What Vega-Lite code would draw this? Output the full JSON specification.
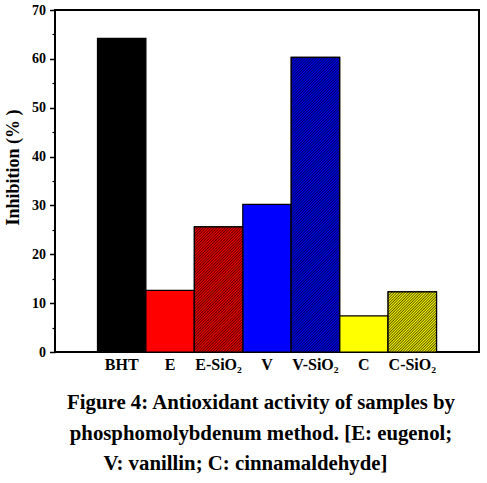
{
  "$schema": "https://vega.github.io/schema/vega-lite/v6.json",
  "width": 424,
  "height": 342,
  "autosize": {"type": "none"},
  "padding": {"left": 55, "top": 10, "right": 8, "bottom": 131},
  "background": "white",
  "title": {
    "text": [
      "Figure 4: Antioxidant activity of samples by",
      "phosphomolybdenum method. [E: eugenol;",
      "V: vanillin; C: cinnamaldehyde]\u00a0\u00a0\u00a0\u00a0\u00a0\u00a0\u200b"
    ],
    "orient": "bottom",
    "anchor": "middle",
    "baseline": "top",
    "font": "Liberation Serif",
    "fontSize": 20.8,
    "fontWeight": "bold",
    "color": "#000",
    "lineHeight": 30.5,
    "offset": 21,
    "dx": -6
  },
  "data": {
    "values": [
      {"sample": "BHT", "value": 64.2},
      {"sample": "E", "value": 12.6},
      {"sample": "E-SiO₂", "value": 25.6},
      {"sample": "V", "value": 30.2},
      {"sample": "V-SiO₂", "value": 60.3},
      {"sample": "C", "value": 7.4},
      {"sample": "C-SiO₂", "value": 12.3}
    ]
  },
  "encoding": {
    "x": {
      "field": "sample",
      "type": "nominal",
      "scale": {
        "domain": ["BHT", "E", "E-SiO₂", "V", "V-SiO₂", "C", "C-SiO₂"],
        "paddingInner": 0,
        "paddingOuter": 0.877
      },
      "axis": {"title": null, "labelAngle": 0, "ticks": false, "labelPadding": 4, "labelFontSize": 16}
    }
  },
  "layer": [
    {
      "mark": {"type": "bar", "stroke": "#000", "strokeWidth": 1.2},
      "encoding": {
        "y": {
          "field": "value",
          "type": "quantitative",
          "scale": {"domain": [0, 70], "nice": false},
          "axis": {
            "values": [0, 10, 20, 30, 40, 50, 60, 70],
            "title": "Inhibition (% )",
            "titleFontSize": 18,
            "titlePadding": 9,
            "titleY": 157,
            "labelFontSize": 14,
            "labelPadding": 4,
            "tickSize": 5.5,
            "tickWidth": 1.5
          }
        },
        "color": {
          "field": "sample",
          "type": "nominal",
          "scale": {
            "domain": ["BHT", "E", "E-SiO₂", "V", "V-SiO₂", "C", "C-SiO₂"],
            "range": ["#000000", "#ff0000", "#ff0000", "#0000ff", "#0000ff", "#ffff00", "#ffff00"]
          },
          "legend": null
        }
      }
    },
    {
      "transform": [{"filter": "datum.sample == 'E-SiO₂'"}],
      "mark": {
        "type": "bar",
        "stroke": "#000",
        "strokeWidth": 1.2,
        "fill": {
          "gradient": "linear", "x1": 0, "y1": 0, "x2": 0.4671, "y2": 1.2063,
          "stops": [
            {"offset": 0, "color": "#f00"}, {"offset": 0.008, "color": "#500"}, {"offset": 0.016, "color": "#f00"}, {"offset": 0.024, "color": "#500"}, {"offset": 0.032, "color": "#f00"},
            {"offset": 0.04, "color": "#500"}, {"offset": 0.048, "color": "#f00"}, {"offset": 0.056, "color": "#500"}, {"offset": 0.064, "color": "#f00"}, {"offset": 0.072, "color": "#500"},
            {"offset": 0.08, "color": "#f00"}, {"offset": 0.088, "color": "#500"}, {"offset": 0.096, "color": "#f00"}, {"offset": 0.104, "color": "#500"}, {"offset": 0.112, "color": "#f00"},
            {"offset": 0.12, "color": "#500"}, {"offset": 0.128, "color": "#f00"}, {"offset": 0.136, "color": "#500"}, {"offset": 0.144, "color": "#f00"}, {"offset": 0.152, "color": "#500"},
            {"offset": 0.16, "color": "#f00"}, {"offset": 0.168, "color": "#500"}, {"offset": 0.176, "color": "#f00"}, {"offset": 0.184, "color": "#500"}, {"offset": 0.192, "color": "#f00"},
            {"offset": 0.2, "color": "#500"}, {"offset": 0.208, "color": "#f00"}, {"offset": 0.216, "color": "#500"}, {"offset": 0.224, "color": "#f00"}, {"offset": 0.232, "color": "#500"},
            {"offset": 0.24, "color": "#f00"}, {"offset": 0.248, "color": "#500"}, {"offset": 0.256, "color": "#f00"}, {"offset": 0.264, "color": "#500"}, {"offset": 0.272, "color": "#f00"},
            {"offset": 0.28, "color": "#500"}, {"offset": 0.288, "color": "#f00"}, {"offset": 0.296, "color": "#500"}, {"offset": 0.304, "color": "#f00"}, {"offset": 0.312, "color": "#500"},
            {"offset": 0.32, "color": "#f00"}, {"offset": 0.328, "color": "#500"}, {"offset": 0.336, "color": "#f00"}, {"offset": 0.344, "color": "#500"}, {"offset": 0.352, "color": "#f00"},
            {"offset": 0.36, "color": "#500"}, {"offset": 0.368, "color": "#f00"}, {"offset": 0.376, "color": "#500"}, {"offset": 0.384, "color": "#f00"}, {"offset": 0.392, "color": "#500"},
            {"offset": 0.4, "color": "#f00"}, {"offset": 0.408, "color": "#500"}, {"offset": 0.416, "color": "#f00"}, {"offset": 0.424, "color": "#500"}, {"offset": 0.432, "color": "#f00"},
            {"offset": 0.44, "color": "#500"}, {"offset": 0.448, "color": "#f00"}, {"offset": 0.456, "color": "#500"}, {"offset": 0.464, "color": "#f00"}, {"offset": 0.472, "color": "#500"},
            {"offset": 0.48, "color": "#f00"}, {"offset": 0.488, "color": "#500"}, {"offset": 0.496, "color": "#f00"}, {"offset": 0.504, "color": "#500"}, {"offset": 0.512, "color": "#f00"},
            {"offset": 0.52, "color": "#500"}, {"offset": 0.528, "color": "#f00"}, {"offset": 0.536, "color": "#500"}, {"offset": 0.544, "color": "#f00"}, {"offset": 0.552, "color": "#500"},
            {"offset": 0.56, "color": "#f00"}, {"offset": 0.568, "color": "#500"}, {"offset": 0.576, "color": "#f00"}, {"offset": 0.584, "color": "#500"}, {"offset": 0.592, "color": "#f00"},
            {"offset": 0.6, "color": "#500"}, {"offset": 0.608, "color": "#f00"}, {"offset": 0.616, "color": "#500"}, {"offset": 0.624, "color": "#f00"}, {"offset": 0.632, "color": "#500"},
            {"offset": 0.64, "color": "#f00"}, {"offset": 0.648, "color": "#500"}, {"offset": 0.656, "color": "#f00"}, {"offset": 0.664, "color": "#500"}, {"offset": 0.672, "color": "#f00"},
            {"offset": 0.68, "color": "#500"}, {"offset": 0.688, "color": "#f00"}, {"offset": 0.696, "color": "#500"}, {"offset": 0.704, "color": "#f00"}, {"offset": 0.712, "color": "#500"},
            {"offset": 0.72, "color": "#f00"}, {"offset": 0.728, "color": "#500"}, {"offset": 0.736, "color": "#f00"}, {"offset": 0.744, "color": "#500"}, {"offset": 0.752, "color": "#f00"},
            {"offset": 0.76, "color": "#500"}, {"offset": 0.768, "color": "#f00"}, {"offset": 0.776, "color": "#500"}, {"offset": 0.784, "color": "#f00"}, {"offset": 0.792, "color": "#500"},
            {"offset": 0.8, "color": "#f00"}, {"offset": 0.808, "color": "#500"}, {"offset": 0.816, "color": "#f00"}, {"offset": 0.824, "color": "#500"}, {"offset": 0.832, "color": "#f00"},
            {"offset": 0.84, "color": "#500"}, {"offset": 0.848, "color": "#f00"}, {"offset": 0.856, "color": "#500"}, {"offset": 0.864, "color": "#f00"}, {"offset": 0.872, "color": "#500"},
            {"offset": 0.88, "color": "#f00"}, {"offset": 0.888, "color": "#500"}, {"offset": 0.896, "color": "#f00"}, {"offset": 0.904, "color": "#500"}, {"offset": 0.912, "color": "#f00"},
            {"offset": 0.92, "color": "#500"}, {"offset": 0.928, "color": "#f00"}, {"offset": 0.936, "color": "#500"}, {"offset": 0.944, "color": "#f00"}, {"offset": 0.952, "color": "#500"},
            {"offset": 0.96, "color": "#f00"}, {"offset": 0.968, "color": "#500"}, {"offset": 0.976, "color": "#f00"}, {"offset": 0.984, "color": "#500"}, {"offset": 0.992, "color": "#f00"},
            {"offset": 1, "color": "#500"}
          ]
        }
      },
      "encoding": {
        "y": {
          "field": "value",
          "type": "quantitative",
          "axis": {
            "orient": "left",
            "values": [5, 15, 25, 35, 45, 55, 65],
            "labels": false,
            "domain": false,
            "grid": false,
            "tickSize": 3,
            "tickWidth": 1.2,
            "title": null
          }
        }
      }
    },
    {
      "transform": [{"filter": "datum.sample == 'V-SiO₂'"}],
      "mark": {
        "type": "bar",
        "stroke": "#000",
        "strokeWidth": 1.2,
        "fill": {
          "gradient": "linear", "x1": 0, "y1": 0, "x2": 0.1864, "y2": 1.1338,
          "stops": [
            {"offset": 0, "color": "#00f"}, {"offset": 0.004, "color": "#005"}, {"offset": 0.008, "color": "#00f"}, {"offset": 0.012, "color": "#005"}, {"offset": 0.016, "color": "#00f"},
            {"offset": 0.02, "color": "#005"}, {"offset": 0.024, "color": "#00f"}, {"offset": 0.028, "color": "#005"}, {"offset": 0.032, "color": "#00f"}, {"offset": 0.036, "color": "#005"},
            {"offset": 0.04, "color": "#00f"}, {"offset": 0.044, "color": "#005"}, {"offset": 0.048, "color": "#00f"}, {"offset": 0.052, "color": "#005"}, {"offset": 0.056, "color": "#00f"},
            {"offset": 0.06, "color": "#005"}, {"offset": 0.064, "color": "#00f"}, {"offset": 0.068, "color": "#005"}, {"offset": 0.072, "color": "#00f"}, {"offset": 0.076, "color": "#005"},
            {"offset": 0.08, "color": "#00f"}, {"offset": 0.084, "color": "#005"}, {"offset": 0.088, "color": "#00f"}, {"offset": 0.092, "color": "#005"}, {"offset": 0.096, "color": "#00f"},
            {"offset": 0.1, "color": "#005"}, {"offset": 0.104, "color": "#00f"}, {"offset": 0.108, "color": "#005"}, {"offset": 0.112, "color": "#00f"}, {"offset": 0.116, "color": "#005"},
            {"offset": 0.12, "color": "#00f"}, {"offset": 0.124, "color": "#005"}, {"offset": 0.128, "color": "#00f"}, {"offset": 0.132, "color": "#005"}, {"offset": 0.136, "color": "#00f"},
            {"offset": 0.14, "color": "#005"}, {"offset": 0.144, "color": "#00f"}, {"offset": 0.148, "color": "#005"}, {"offset": 0.152, "color": "#00f"}, {"offset": 0.156, "color": "#005"},
            {"offset": 0.16, "color": "#00f"}, {"offset": 0.164, "color": "#005"}, {"offset": 0.168, "color": "#00f"}, {"offset": 0.172, "color": "#005"}, {"offset": 0.176, "color": "#00f"},
            {"offset": 0.18, "color": "#005"}, {"offset": 0.184, "color": "#00f"}, {"offset": 0.188, "color": "#005"}, {"offset": 0.192, "color": "#00f"}, {"offset": 0.196, "color": "#005"},
            {"offset": 0.2, "color": "#00f"}, {"offset": 0.204, "color": "#005"}, {"offset": 0.208, "color": "#00f"}, {"offset": 0.212, "color": "#005"}, {"offset": 0.216, "color": "#00f"},
            {"offset": 0.22, "color": "#005"}, {"offset": 0.224, "color": "#00f"}, {"offset": 0.228, "color": "#005"}, {"offset": 0.232, "color": "#00f"}, {"offset": 0.236, "color": "#005"},
            {"offset": 0.24, "color": "#00f"}, {"offset": 0.244, "color": "#005"}, {"offset": 0.248, "color": "#00f"}, {"offset": 0.252, "color": "#005"}, {"offset": 0.256, "color": "#00f"},
            {"offset": 0.26, "color": "#005"}, {"offset": 0.264, "color": "#00f"}, {"offset": 0.268, "color": "#005"}, {"offset": 0.272, "color": "#00f"}, {"offset": 0.276, "color": "#005"},
            {"offset": 0.28, "color": "#00f"}, {"offset": 0.284, "color": "#005"}, {"offset": 0.288, "color": "#00f"}, {"offset": 0.292, "color": "#005"}, {"offset": 0.296, "color": "#00f"},
            {"offset": 0.3, "color": "#005"}, {"offset": 0.304, "color": "#00f"}, {"offset": 0.308, "color": "#005"}, {"offset": 0.312, "color": "#00f"}, {"offset": 0.316, "color": "#005"},
            {"offset": 0.32, "color": "#00f"}, {"offset": 0.324, "color": "#005"}, {"offset": 0.328, "color": "#00f"}, {"offset": 0.332, "color": "#005"}, {"offset": 0.336, "color": "#00f"},
            {"offset": 0.34, "color": "#005"}, {"offset": 0.344, "color": "#00f"}, {"offset": 0.348, "color": "#005"}, {"offset": 0.352, "color": "#00f"}, {"offset": 0.356, "color": "#005"},
            {"offset": 0.36, "color": "#00f"}, {"offset": 0.364, "color": "#005"}, {"offset": 0.368, "color": "#00f"}, {"offset": 0.372, "color": "#005"}, {"offset": 0.376, "color": "#00f"},
            {"offset": 0.38, "color": "#005"}, {"offset": 0.384, "color": "#00f"}, {"offset": 0.388, "color": "#005"}, {"offset": 0.392, "color": "#00f"}, {"offset": 0.396, "color": "#005"},
            {"offset": 0.4, "color": "#00f"}, {"offset": 0.404, "color": "#005"}, {"offset": 0.408, "color": "#00f"}, {"offset": 0.412, "color": "#005"}, {"offset": 0.416, "color": "#00f"},
            {"offset": 0.42, "color": "#005"}, {"offset": 0.424, "color": "#00f"}, {"offset": 0.428, "color": "#005"}, {"offset": 0.432, "color": "#00f"}, {"offset": 0.436, "color": "#005"},
            {"offset": 0.44, "color": "#00f"}, {"offset": 0.444, "color": "#005"}, {"offset": 0.448, "color": "#00f"}, {"offset": 0.452, "color": "#005"}, {"offset": 0.456, "color": "#00f"},
            {"offset": 0.46, "color": "#005"}, {"offset": 0.464, "color": "#00f"}, {"offset": 0.468, "color": "#005"}, {"offset": 0.472, "color": "#00f"}, {"offset": 0.476, "color": "#005"},
            {"offset": 0.48, "color": "#00f"}, {"offset": 0.484, "color": "#005"}, {"offset": 0.488, "color": "#00f"}, {"offset": 0.492, "color": "#005"}, {"offset": 0.496, "color": "#00f"},
            {"offset": 0.5, "color": "#005"}, {"offset": 0.504, "color": "#00f"}, {"offset": 0.508, "color": "#005"}, {"offset": 0.512, "color": "#00f"}, {"offset": 0.516, "color": "#005"},
            {"offset": 0.52, "color": "#00f"}, {"offset": 0.524, "color": "#005"}, {"offset": 0.528, "color": "#00f"}, {"offset": 0.532, "color": "#005"}, {"offset": 0.536, "color": "#00f"},
            {"offset": 0.54, "color": "#005"}, {"offset": 0.544, "color": "#00f"}, {"offset": 0.548, "color": "#005"}, {"offset": 0.552, "color": "#00f"}, {"offset": 0.556, "color": "#005"},
            {"offset": 0.56, "color": "#00f"}, {"offset": 0.564, "color": "#005"}, {"offset": 0.568, "color": "#00f"}, {"offset": 0.572, "color": "#005"}, {"offset": 0.576, "color": "#00f"},
            {"offset": 0.58, "color": "#005"}, {"offset": 0.584, "color": "#00f"}, {"offset": 0.588, "color": "#005"}, {"offset": 0.592, "color": "#00f"}, {"offset": 0.596, "color": "#005"},
            {"offset": 0.6, "color": "#00f"}, {"offset": 0.604, "color": "#005"}, {"offset": 0.608, "color": "#00f"}, {"offset": 0.612, "color": "#005"}, {"offset": 0.616, "color": "#00f"},
            {"offset": 0.62, "color": "#005"}, {"offset": 0.624, "color": "#00f"}, {"offset": 0.628, "color": "#005"}, {"offset": 0.632, "color": "#00f"}, {"offset": 0.636, "color": "#005"},
            {"offset": 0.64, "color": "#00f"}, {"offset": 0.644, "color": "#005"}, {"offset": 0.648, "color": "#00f"}, {"offset": 0.652, "color": "#005"}, {"offset": 0.656, "color": "#00f"},
            {"offset": 0.66, "color": "#005"}, {"offset": 0.664, "color": "#00f"}, {"offset": 0.668, "color": "#005"}, {"offset": 0.672, "color": "#00f"}, {"offset": 0.676, "color": "#005"},
            {"offset": 0.68, "color": "#00f"}, {"offset": 0.684, "color": "#005"}, {"offset": 0.688, "color": "#00f"}, {"offset": 0.692, "color": "#005"}, {"offset": 0.696, "color": "#00f"},
            {"offset": 0.7, "color": "#005"}, {"offset": 0.704, "color": "#00f"}, {"offset": 0.708, "color": "#005"}, {"offset": 0.712, "color": "#00f"}, {"offset": 0.716, "color": "#005"},
            {"offset": 0.72, "color": "#00f"}, {"offset": 0.724, "color": "#005"}, {"offset": 0.728, "color": "#00f"}, {"offset": 0.732, "color": "#005"}, {"offset": 0.736, "color": "#00f"},
            {"offset": 0.74, "color": "#005"}, {"offset": 0.744, "color": "#00f"}, {"offset": 0.748, "color": "#005"}, {"offset": 0.752, "color": "#00f"}, {"offset": 0.756, "color": "#005"},
            {"offset": 0.76, "color": "#00f"}, {"offset": 0.764, "color": "#005"}, {"offset": 0.768, "color": "#00f"}, {"offset": 0.772, "color": "#005"}, {"offset": 0.776, "color": "#00f"},
            {"offset": 0.78, "color": "#005"}, {"offset": 0.784, "color": "#00f"}, {"offset": 0.788, "color": "#005"}, {"offset": 0.792, "color": "#00f"}, {"offset": 0.796, "color": "#005"},
            {"offset": 0.8, "color": "#00f"}, {"offset": 0.804, "color": "#005"}, {"offset": 0.808, "color": "#00f"}, {"offset": 0.812, "color": "#005"}, {"offset": 0.816, "color": "#00f"},
            {"offset": 0.82, "color": "#005"}, {"offset": 0.824, "color": "#00f"}, {"offset": 0.828, "color": "#005"}, {"offset": 0.832, "color": "#00f"}, {"offset": 0.836, "color": "#005"},
            {"offset": 0.84, "color": "#00f"}, {"offset": 0.844, "color": "#005"}, {"offset": 0.848, "color": "#00f"}, {"offset": 0.852, "color": "#005"}, {"offset": 0.856, "color": "#00f"},
            {"offset": 0.86, "color": "#005"}, {"offset": 0.864, "color": "#00f"}, {"offset": 0.868, "color": "#005"}, {"offset": 0.872, "color": "#00f"}, {"offset": 0.876, "color": "#005"},
            {"offset": 0.88, "color": "#00f"}, {"offset": 0.884, "color": "#005"}, {"offset": 0.888, "color": "#00f"}, {"offset": 0.892, "color": "#005"}, {"offset": 0.896, "color": "#00f"},
            {"offset": 0.9, "color": "#005"}, {"offset": 0.904, "color": "#00f"}, {"offset": 0.908, "color": "#005"}, {"offset": 0.912, "color": "#00f"}, {"offset": 0.916, "color": "#005"},
            {"offset": 0.92, "color": "#00f"}, {"offset": 0.924, "color": "#005"}, {"offset": 0.928, "color": "#00f"}, {"offset": 0.932, "color": "#005"}, {"offset": 0.936, "color": "#00f"},
            {"offset": 0.94, "color": "#005"}, {"offset": 0.944, "color": "#00f"}, {"offset": 0.948, "color": "#005"}, {"offset": 0.952, "color": "#00f"}, {"offset": 0.956, "color": "#005"},
            {"offset": 0.96, "color": "#00f"}, {"offset": 0.964, "color": "#005"}, {"offset": 0.968, "color": "#00f"}, {"offset": 0.972, "color": "#005"}, {"offset": 0.976, "color": "#00f"},
            {"offset": 0.98, "color": "#005"}, {"offset": 0.984, "color": "#00f"}, {"offset": 0.988, "color": "#005"}, {"offset": 0.992, "color": "#00f"}, {"offset": 0.996, "color": "#005"},
            {"offset": 1, "color": "#00f"}
          ]
        }
      },
      "encoding": {
        "y": {"field": "value", "type": "quantitative", "axis": null}
      }
    },
    {
      "transform": [{"filter": "datum.sample == 'C-SiO₂'"}],
      "mark": {
        "type": "bar",
        "stroke": "#000",
        "strokeWidth": 1.2,
        "fill": {
          "gradient": "linear", "x1": 0, "y1": 0, "x2": 0.8824, "y2": 1.0948,
          "stops": [
            {"offset": 0, "color": "#ff0"}, {"offset": 0.0125, "color": "#550"}, {"offset": 0.025, "color": "#ff0"}, {"offset": 0.0375, "color": "#550"},
            {"offset": 0.05, "color": "#ff0"}, {"offset": 0.0625, "color": "#550"}, {"offset": 0.075, "color": "#ff0"}, {"offset": 0.0875, "color": "#550"},
            {"offset": 0.1, "color": "#ff0"}, {"offset": 0.1125, "color": "#550"}, {"offset": 0.125, "color": "#ff0"}, {"offset": 0.1375, "color": "#550"},
            {"offset": 0.15, "color": "#ff0"}, {"offset": 0.1625, "color": "#550"}, {"offset": 0.175, "color": "#ff0"}, {"offset": 0.1875, "color": "#550"},
            {"offset": 0.2, "color": "#ff0"}, {"offset": 0.2125, "color": "#550"}, {"offset": 0.225, "color": "#ff0"}, {"offset": 0.2375, "color": "#550"},
            {"offset": 0.25, "color": "#ff0"}, {"offset": 0.2625, "color": "#550"}, {"offset": 0.275, "color": "#ff0"}, {"offset": 0.2875, "color": "#550"},
            {"offset": 0.3, "color": "#ff0"}, {"offset": 0.3125, "color": "#550"}, {"offset": 0.325, "color": "#ff0"}, {"offset": 0.3375, "color": "#550"},
            {"offset": 0.35, "color": "#ff0"}, {"offset": 0.3625, "color": "#550"}, {"offset": 0.375, "color": "#ff0"}, {"offset": 0.3875, "color": "#550"},
            {"offset": 0.4, "color": "#ff0"}, {"offset": 0.4125, "color": "#550"}, {"offset": 0.425, "color": "#ff0"}, {"offset": 0.4375, "color": "#550"},
            {"offset": 0.45, "color": "#ff0"}, {"offset": 0.4625, "color": "#550"}, {"offset": 0.475, "color": "#ff0"}, {"offset": 0.4875, "color": "#550"},
            {"offset": 0.5, "color": "#ff0"}, {"offset": 0.5125, "color": "#550"}, {"offset": 0.525, "color": "#ff0"}, {"offset": 0.5375, "color": "#550"},
            {"offset": 0.55, "color": "#ff0"}, {"offset": 0.5625, "color": "#550"}, {"offset": 0.575, "color": "#ff0"}, {"offset": 0.5875, "color": "#550"},
            {"offset": 0.6, "color": "#ff0"}, {"offset": 0.6125, "color": "#550"}, {"offset": 0.625, "color": "#ff0"}, {"offset": 0.6375, "color": "#550"},
            {"offset": 0.65, "color": "#ff0"}, {"offset": 0.6625, "color": "#550"}, {"offset": 0.675, "color": "#ff0"}, {"offset": 0.6875, "color": "#550"},
            {"offset": 0.7, "color": "#ff0"}, {"offset": 0.7125, "color": "#550"}, {"offset": 0.725, "color": "#ff0"}, {"offset": 0.7375, "color": "#550"},
            {"offset": 0.75, "color": "#ff0"}, {"offset": 0.7625, "color": "#550"}, {"offset": 0.775, "color": "#ff0"}, {"offset": 0.7875, "color": "#550"},
            {"offset": 0.8, "color": "#ff0"}, {"offset": 0.8125, "color": "#550"}, {"offset": 0.825, "color": "#ff0"}, {"offset": 0.8375, "color": "#550"},
            {"offset": 0.85, "color": "#ff0"}, {"offset": 0.8625, "color": "#550"}, {"offset": 0.875, "color": "#ff0"}, {"offset": 0.8875, "color": "#550"},
            {"offset": 0.9, "color": "#ff0"}, {"offset": 0.9125, "color": "#550"}, {"offset": 0.925, "color": "#ff0"}, {"offset": 0.9375, "color": "#550"},
            {"offset": 0.95, "color": "#ff0"}, {"offset": 0.9625, "color": "#550"}, {"offset": 0.975, "color": "#ff0"}, {"offset": 0.9875, "color": "#550"},
            {"offset": 1, "color": "#ff0"}
          ]
        }
      },
      "encoding": {
        "y": {"field": "value", "type": "quantitative", "axis": null}
      }
    }
  ],
  "resolve": {"axis": {"y": "independent"}},
  "config": {
    "view": {"stroke": "#000", "strokeWidth": 2},
    "axis": {
      "labelFont": "Liberation Serif",
      "labelFontWeight": "bold",
      "labelColor": "#000",
      "titleFont": "Liberation Serif",
      "titleFontWeight": "bold",
      "titleColor": "#000",
      "tickColor": "#000",
      "domain": false,
      "grid": false
    }
  }
}
